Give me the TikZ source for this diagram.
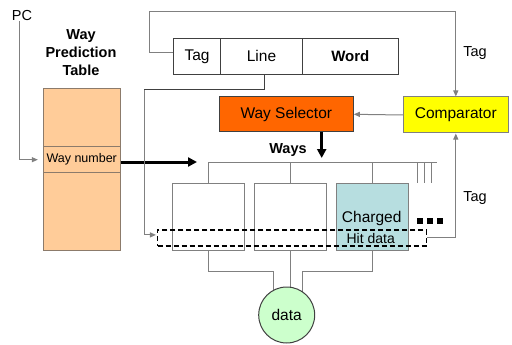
\documentclass[tikz,border=0pt]{standalone}
\usepackage{fontspec}
\setmainfont{Liberation Sans}
\usetikzlibrary{arrows.meta,backgrounds}

\definecolor{peach}{HTML}{FFCC99}
\definecolor{peachline}{HTML}{8C7B6B}
\definecolor{selorange}{HTML}{FF6600}
\definecolor{cmpyellow}{HTML}{FFFF00}
\definecolor{wayteal}{HTML}{B7DEE0}
\definecolor{datagreen}{HTML}{CCFFCC}
\definecolor{wire}{HTML}{808080}
\definecolor{edge}{HTML}{404040}

\tikzset{
  txt/.style={font=\fontsize{14.5}{16}\selectfont, inner sep=0pt},
  boldtxt/.style={txt, font=\fontsize{14.5}{16}\selectfont\bfseries},
  field/.style={draw=edge, line width=1pt, inner sep=0pt, font=\fontsize{15.5}{17}\selectfont},
  waybox/.style={draw=wire, line width=1pt, minimum width=72pt, minimum height=67.4pt, inner sep=0pt},
  wirel/.style={draw=wire, line width=1pt},
  arr/.style={wirel, -{Triangle[length=6pt,width=5pt]}},
  bigarr/.style={draw=black, line width=3pt, -{Triangle[length=9pt,width=9pt]}}
}

\begin{document}
\begin{tikzpicture}[x=1pt, y=-1pt]
\useasboundingbox (0,0) rectangle (512,345);

% way prediction table
\node[boldtxt, align=center] (wptitle) at (81,53) {Way\\[2pt]Prediction\\[2pt]Table};
\node[draw=peachline, fill=peach, line width=1pt, minimum width=76.7pt, minimum height=161pt, inner sep=0pt] (wpt) at (81.7,169.5) {};
\node[draw=peachline, line width=1pt, minimum width=76.7pt, minimum height=26pt, inner sep=0pt,
      font=\fontsize{12.5}{14}\selectfont] (wn) at (81.7,159.7) {Way number};
\node[txt] (pc) at (22,16) {PC};

% address fields
\node[field, minimum width=47.4pt, minimum height=36pt] (tag) at (197,56.3) {Tag};
\node[field, minimum width=81.6pt, minimum height=36pt] (line) at (261.5,56.3) {Line};
\node[field, minimum width=96pt, minimum height=36pt, font=\fontsize{15}{17}\selectfont\bfseries] (word) at (350.3,56.3) {Word};

% selector and comparator
\node[draw=edge, fill=selorange, line width=1pt, minimum width=134pt, minimum height=35.3pt, inner sep=0pt,
      font=\fontsize{15.5}{17}\selectfont] (ws) at (286.3,114.3) {Way Selector};
\node[draw=wire, fill=cmpyellow, line width=1pt, minimum width=105pt, minimum height=36pt, inner sep=0pt,
      font=\fontsize{15.5}{17}\selectfont] (cmp) at (455.8,115) {Comparator};

% the ways
\node[waybox] (w1) at (208.7,217) {};
\node[waybox] (w2) at (290.2,217) {};
\node[waybox, fill=wayteal] (w3) at (372,217) {};
\node[txt, font=\fontsize{15.5}{17}\selectfont] (chg) at (371.7,218.3) {Charged};
\node[draw=black, dashed, dash pattern=on 5pt off 3pt, line width=1.5pt, minimum width=269pt, minimum height=15.7pt, inner sep=0pt] (hit) at (292.2,237.9) {};
\node[txt, font=\fontsize{14}{15}\selectfont] (hitlbl) at (370.7,238.3) {Hit data};
\node[boldtxt] (ways) at (288,150) {Ways};

% dots after the last way
\foreach \dx in {420,430,440}
  \fill (\dx-2.8,218.3) rectangle (\dx+2.8,224);

% output data
\node[circle, draw=edge, fill=datagreen, line width=1pt, minimum size=56pt, inner sep=0pt,
      font=\fontsize{15.5}{17}\selectfont] (data) at (286.7,315) {data};

% tag labels
\node[txt] (tagtop) at (475,53) {Tag};
\node[txt] (tagbot) at (475,198) {Tag};

% helper points
\coordinate (loopl) at (149,53);
\coordinate (loopt) at (149,12);
\coordinate (lcorner) at (144,90);
\coordinate (busin) at (197,162);
\coordinate (wsout) at (321.7,132);
\coordinate (waysin) at (321.7,158);
\coordinate (busend) at (436.7,162);

% wiring
\draw[arr] ([xshift=-3pt]pc.south) |- ([xshift=-5pt]wn.west);
\draw[bigarr] (wn.east |- busin) -- (busin);
\draw[wirel] (tag.west |- loopl) -- (loopl) -- (loopt);
\draw[arr] (loopt) -| (cmp.north);
\draw[wirel, draw=edge] ([xshift=2.5pt]line.south) |- (lcorner);
\draw[arr] (lcorner) |- ([xshift=-1pt,yshift=3pt]hit.west);
\draw[arr] (cmp.west) -- (ws.east);
\draw[bigarr] (wsout) -- (waysin);
\draw[arr] (hit.east) -| (cmp.south);

% bus to the ways
\draw[wirel] (w1.north |- busend) -- (busend);
\draw[wirel] (w1.north |- busend) -- (w1.north);
\draw[wirel] (w2.north |- busend) -- (w2.north);
\draw[wirel] (w3.north |- busend) -- (w3.north);
\foreach \tx in {417.3,424.3,431.7}
  \draw[wirel] (\tx,162) -- (\tx,183.3);

% ways into the output
\begin{scope}[on background layer]
\draw[wirel] (w1.south) |- (273.3,271) -- (273.3,300);
\draw[wirel] (w2.south) -- (290.2,300);
\draw[wirel] (w3.south) |- (302.3,271) -- (302.3,300);
\end{scope}
\end{tikzpicture}
\end{document}
